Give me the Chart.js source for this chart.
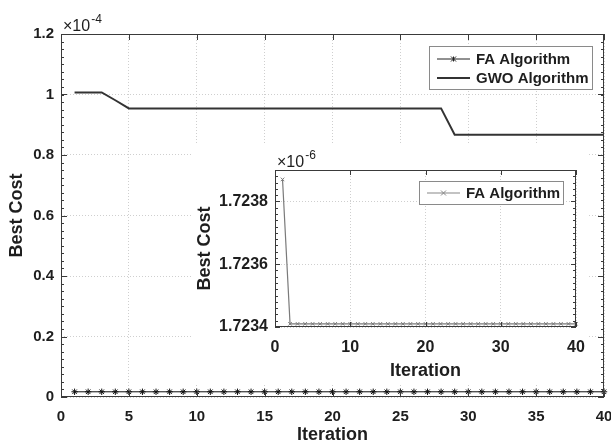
<!DOCTYPE html>
<html>
<head>
<meta charset="utf-8">
<script src="https://cdn.jsdelivr.net/npm/chart.js@4/dist/chart.umd.min.js"></script>
<style>
  html, body { margin: 0; padding: 0; background: #fff; }
  #wrap { position: relative; width: 611px; height: 444px; }
  #main { position: absolute; left: 0; top: 0; }
  #inset { position: absolute; left: 193px; top: 143px; background: #fff; }
</style>
</head>
<body>
<div id="wrap">
  <canvas id="main" width="611" height="444"></canvas>
  <canvas id="inset" width="395" height="242"></canvas>
</div>
<script>
// data
const iterations = [1, 2, 3, 4, 5, 6, 7, 8, 9, 10, 11, 12, 13, 14, 15, 16, 17, 18, 19, 20,
  21, 22, 23, 24, 25, 26, 27, 28, 29, 30, 31, 32, 33, 34, 35, 36, 37, 38, 39, 40];
const faCost = [1.72387e-6, 1.72341e-6, 1.72341e-6, 1.72341e-6, 1.72341e-6, 1.72341e-6, 1.72341e-6, 1.72341e-6,
  1.72341e-6, 1.72341e-6, 1.72341e-6, 1.72341e-6, 1.72341e-6, 1.72341e-6, 1.72341e-6, 1.72341e-6,
  1.72341e-6, 1.72341e-6, 1.72341e-6, 1.72341e-6, 1.72341e-6, 1.72341e-6, 1.72341e-6, 1.72341e-6,
  1.72341e-6, 1.72341e-6, 1.72341e-6, 1.72341e-6, 1.72341e-6, 1.72341e-6, 1.72341e-6, 1.72341e-6,
  1.72341e-6, 1.72341e-6, 1.72341e-6, 1.72341e-6, 1.72341e-6, 1.72341e-6, 1.72341e-6, 1.72341e-6];
const gwoCost = [1.007e-4, 1.007e-4, 1.007e-4, 0.981e-4, 0.954e-4, 0.954e-4, 0.954e-4, 0.954e-4,
  0.954e-4, 0.954e-4, 0.954e-4, 0.954e-4, 0.954e-4, 0.954e-4, 0.954e-4, 0.954e-4,
  0.954e-4, 0.954e-4, 0.954e-4, 0.954e-4, 0.954e-4, 0.954e-4, 0.954e-4, 0.954e-4,
  0.954e-4, 0.954e-4, 0.954e-4, 0.954e-4, 0.867e-4, 0.867e-4, 0.867e-4, 0.867e-4,
  0.867e-4, 0.867e-4, 0.867e-4, 0.867e-4, 0.867e-4, 0.867e-4, 0.867e-4, 0.867e-4];

// axis ticks (y ticks are in units of the exponent shown above the axis)
const mainXTicks = [0, 5, 10, 15, 20, 25, 30, 35, 40];
const mainYTicks = [0, 0.2, 0.4, 0.6, 0.8, 1, 1.2];
const mainYRange = [0, 1.2];
const mainExp = -4;
const insetXTicks = [0, 10, 20, 30, 40];
const insetYTicks = [1.7234, 1.7236, 1.7238];
const insetYRange = [1.7234, 1.7239];
const insetExp = -6;

const FONT = '"Liberation Sans", Arial, sans-serif';
const TEXT = '#1e1e1e';

// MATLAB-like box, inward ticks, exponent label and legend
const matlabAxes = {
  id: 'matlabAxes',
  afterDraw(chart, args, opts) {
    const { ctx, chartArea: a, scales: { x, y } } = chart;
    ctx.save();
    ctx.strokeStyle = '#3a3a3a';
    ctx.lineWidth = 1;
    ctx.strokeRect(a.left + 0.5, a.top + 0.5, a.right - a.left - 1, a.bottom - a.top - 1);

    ctx.beginPath();
    x.ticks.forEach(t => {
      const px = Math.round(x.getPixelForValue(t.value)) + 0.5;
      ctx.moveTo(px, a.bottom); ctx.lineTo(px, a.bottom - opts.tickLen);
      ctx.moveTo(px, a.top); ctx.lineTo(px, a.top + opts.tickLen);
    });
    y.ticks.forEach(t => {
      const py = Math.round(y.getPixelForValue(t.value)) + 0.5;
      ctx.moveTo(a.left, py); ctx.lineTo(a.left + opts.tickLen, py);
      ctx.moveTo(a.right, py); ctx.lineTo(a.right - opts.tickLen, py);
    });
    // minor ticks on y
    const pxStep = (y.getPixelForValue(y.ticks[0].value) - y.getPixelForValue(y.ticks[1].value)) / opts.minorY;
    for (let py = y.getPixelForValue(y.ticks[0].value); py > a.top; py -= pxStep) {
      const p = Math.round(py) + 0.5;
      ctx.moveTo(a.left, p); ctx.lineTo(a.left + opts.minorLen, p);
      ctx.moveTo(a.right, p); ctx.lineTo(a.right - opts.minorLen, p);
    }
    ctx.stroke();

    // exponent label
    ctx.fillStyle = TEXT;
    ctx.textBaseline = 'alphabetic';
    ctx.textAlign = 'left';
    ctx.font = '16px ' + FONT;
    const ex = a.left + 2, ey = a.top - 3;
    ctx.fillText('\u00d710', ex, ey);
    const w = ctx.measureText('\u00d710').width;
    ctx.font = '12px ' + FONT;
    ctx.fillText(String(opts.exp), ex + w + 1, ey - 8);

    // legend
    const L = opts.legend;
    ctx.fillStyle = '#fff';
    ctx.fillRect(L.x, L.y, L.w, L.h);
    ctx.strokeStyle = '#8a8a8a';
    ctx.strokeRect(L.x + 0.5, L.y + 0.5, L.w, L.h);
    ctx.font = 'bold 15px ' + FONT;
    ctx.textBaseline = 'middle';
    L.items.forEach((it, i) => {
      const ly = L.y + L.first + i * L.gap;
      ctx.strokeStyle = it.color;
      ctx.lineWidth = it.width;
      ctx.beginPath();
      ctx.moveTo(L.x + 8, ly); ctx.lineTo(L.x + 41, ly);
      ctx.stroke();
      if (it.marker) {
        ctx.lineWidth = 1;
        ctx.beginPath();
        const cx = L.x + 24.5, r = 2.5;
        ctx.moveTo(cx - r, ly - r); ctx.lineTo(cx + r, ly + r);
        ctx.moveTo(cx - r, ly + r); ctx.lineTo(cx + r, ly - r);
        if (it.marker === 'star') { ctx.moveTo(cx, ly - r); ctx.lineTo(cx, ly + r); }
        ctx.stroke();
      }
      ctx.fillStyle = TEXT;
      ctx.fillText(it.label, L.x + 47, ly + 1);
    });
    ctx.restore();
  }
};

function xy(values, scale) {
  return iterations.map((it, i) => ({ x: it, y: values[i] / scale }));
}

function axisX(ticks, tickSize, pad, titlePad, height) {
  return {
    type: 'linear',
    min: ticks[0], max: ticks[ticks.length - 1],
    afterBuildTicks: s => { s.ticks = ticks.map(v => ({ value: v })); },
    // fixed box size; end labels may hang over the edge like in MATLAB
    afterFit: s => { s.height = height; s.paddingLeft = 0; s.paddingRight = 0; },
    grid: { color: '#cfcfcf', lineWidth: 1, drawTicks: false },
    border: { display: false, dash: [1, 2] },
    ticks: { color: TEXT, font: { family: FONT, size: tickSize, weight: 'bold' }, padding: pad, maxRotation: 0 },
    title: { display: true, text: 'Iteration', color: TEXT,
      font: { family: FONT, size: 18, weight: 'bold', lineHeight: 1 }, padding: { top: 0, bottom: titlePad } }
  };
}

function axisY(ticks, range, tickSize, fmt, titlePad, width) {
  return {
    type: 'linear',
    min: range[0], max: range[1],
    afterBuildTicks: s => { s.ticks = ticks.map(v => ({ value: v })); },
    afterFit: s => { s.width = width; s.paddingTop = 0; s.paddingBottom = 0; },
    grid: { color: '#cfcfcf', lineWidth: 1, drawTicks: false },
    border: { display: false, dash: [1, 2] },
    ticks: { color: TEXT, font: { family: FONT, size: tickSize, weight: 'bold' }, padding: 7, callback: fmt },
    title: { display: true, text: 'Best Cost', color: TEXT,
      font: { family: FONT, size: 18, weight: 'bold', lineHeight: 1 }, padding: { top: titlePad, bottom: 0 } }
  };
}

const mainScale = Math.pow(10, mainExp);
new Chart(document.getElementById('main'), {
  type: 'line',
  data: {
    datasets: [
      {
        label: 'FA Algorithm',
        data: xy(faCost, mainScale),
        borderColor: '#111', backgroundColor: '#111', borderWidth: 1,
        pointStyle: 'star', pointRadius: 3.2, pointBorderWidth: 1, clip: 8
      },
      {
        label: 'GWO Algorithm',
        data: xy(gwoCost, mainScale),
        borderColor: '#333', borderWidth: 2, pointRadius: 0
      }
    ]
  },
  options: {
    responsive: false,
    animation: false,
    devicePixelRatio: 1,
    layout: { autoPadding: false, padding: { left: 0, right: 7, top: 34, bottom: 0 } },
    scales: {
      x: axisX(mainXTicks, 15, 11, 0, 47),
      y: axisY(mainYTicks, mainYRange, 15, v => String(v), 8, 61)
    },
    plugins: {
      legend: { display: false },
      tooltip: { enabled: false },
      matlabAxes: {
        tickLen: 6, minorLen: 3, minorY: 8, exp: mainExp,
        legend: {
          x: 429, y: 46, w: 163, h: 43, first: 13, gap: 19,
          items: [
            { label: 'FA Algorithm', color: '#222', width: 1, marker: 'star' },
            { label: 'GWO Algorithm', color: '#333', width: 2 }
          ]
        }
      }
    }
  },
  plugins: [matlabAxes]
});

const insetScale = Math.pow(10, insetExp);
new Chart(document.getElementById('inset'), {
  type: 'line',
  data: {
    datasets: [
      {
        label: 'FA Algorithm',
        data: xy(faCost, insetScale),
        borderColor: '#7a7a7a', backgroundColor: '#7a7a7a', borderWidth: 1.2,
        pointStyle: 'crossRot', pointRadius: 2.5, pointBorderWidth: 1, clip: 8
      }
    ]
  },
  options: {
    responsive: false,
    animation: false,
    devicePixelRatio: 1,
    layout: { autoPadding: false, padding: { left: 0, right: 12, top: 27, bottom: 0 } },
    scales: {
      x: axisX(insetXTicks, 16, 11, 5, 58),
      y: axisY(insetYTicks, insetYRange, 16, v => v.toFixed(4), 3, 82)
    },
    plugins: {
      legend: { display: false },
      tooltip: { enabled: false },
      matlabAxes: {
        tickLen: 5, minorLen: 3, minorY: 10, exp: insetExp,
        legend: {
          x: 226, y: 38, w: 144, h: 23, first: 12, gap: 19,
          items: [
            { label: 'FA Algorithm', color: '#888', width: 1.2, marker: 'x' }
          ]
        }
      }
    }
  },
  plugins: [matlabAxes]
});
</script>
</body>
</html>
